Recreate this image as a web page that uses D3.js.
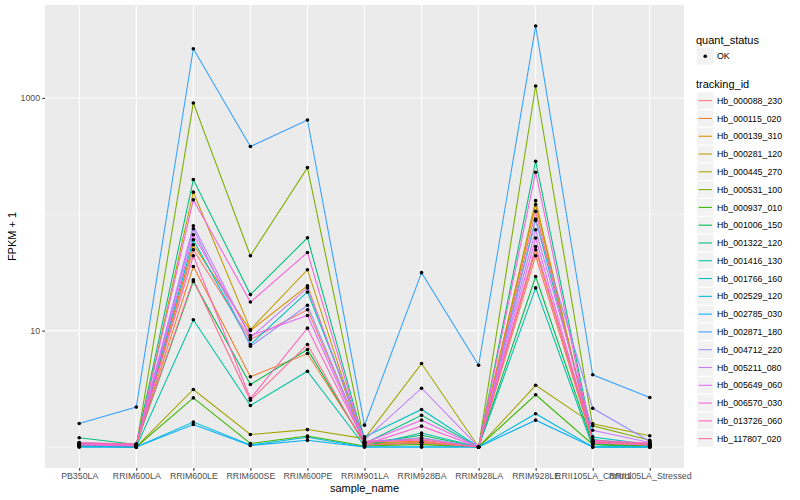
<!DOCTYPE html>
<html><head><meta charset="utf-8">
<script src="https://cdn.jsdelivr.net/npm/d3@7"></script>
<style>
body{margin:0;background:#fff}
text{font-family:"Liberation Sans",Arial,Helvetica,sans-serif}
</style>
</head><body>
<svg id="chart" width="800" height="500"></svg>
<script>
// ---- data (FPKM + 1) ----
const categories = ["PB350LA","RRIM600LA","RRIM600LE","RRIM600SE","RRIM600PE","RRIM901LA","RRIM928BA","RRIM928LA","RRIM928LE","RRII105LA_Control","RRII105LA_Stressed"];
const trackingIds = ["Hb_000088_230","Hb_000115_020","Hb_000139_310","Hb_000281_120","Hb_000445_270","Hb_000531_100","Hb_000937_010","Hb_001006_150","Hb_001322_120","Hb_001416_130","Hb_001766_160","Hb_002529_120","Hb_002785_030","Hb_002871_180","Hb_004712_220","Hb_005211_080","Hb_005649_060","Hb_006570_030","Hb_013726_060","Hb_117807_020"];
const hb_000088_230 = [1.06, 1.04, 49.6, 8.37, 15.1, 1.12, 1.18, 1.0, 44.0, 1.10, 1.07];
const hb_000115_020 = [1.05, 1.03, 35.6, 4.01, 6.35, 1.09, 1.12, 1.0, 49.6, 1.12, 1.05];
const hb_000139_310 = [1.03, 1.02, 54.7, 10.0, 24.3, 1.06, 1.10, 1.0, 121, 1.08, 1.03];
const hb_000281_120 = [1.02, 1.0, 155, 10.2, 33.4, 1.03, 1.08, 1.0, 131, 1.06, 1.02];
const hb_000445_270 = [1.03, 1.0, 3.12, 1.28, 1.41, 1.18, 5.21, 1.0, 3.39, 1.58, 1.25];
const hb_000531_100 = [1.05, 1.01, 906, 44.0, 252, 1.10, 1.05, 1.0, 1267, 1.52, 1.14];
const hb_000937_010 = [1.02, 1.0, 2.64, 1.07, 1.24, 1.02, 1.05, 1.0, 2.81, 1.05, 1.02];
const hb_001006_150 = [1.08, 1.05, 26.5, 3.44, 6.87, 1.07, 1.26, 1.0, 29.2, 1.05, 1.0];
const hb_001322_120 = [1.20, 1.05, 199, 20.4, 62.8, 1.07, 1.87, 1.0, 286, 1.16, 1.03];
const hb_001416_130 = [1.02, 1.0, 12.4, 2.27, 4.47, 1.02, 1.32, 1.0, 23.3, 1.0, 1.0];
const hb_001766_160 = [1.04, 1.02, 60.4, 7.59, 21.5, 1.22, 2.10, 1.0, 91, 1.22, 1.05];
const hb_002529_120 = [1.0, 1.0, 1.64, 1.04, 1.21, 1.0, 1.0, 1.0, 1.93, 1.0, 1.0];
const hb_002785_030 = [1.0, 1.0, 1.56, 1.03, 1.14, 1.0, 1.0, 1.0, 1.70, 1.0, 1.0];
const hb_002871_180 = [1.59, 2.20, 2650, 382, 647, 1.54, 31.5, 5.04, 4150, 4.17, 2.66];
const hb_004712_220 = [1.07, 1.04, 75.1, 7.33, 16.5, 1.10, 1.20, 1.0, 88.5, 2.15, 1.12];
const hb_005211_080 = [1.09, 1.06, 79.6, 8.71, 23.3, 1.15, 3.20, 1.0, 73.6, 1.39, 1.09];
const hb_005649_060 = [1.06, 1.03, 66.7, 9.06, 13.5, 1.08, 1.70, 1.0, 62.5, 1.12, 1.05];
const hb_006570_030 = [1.04, 1.02, 133, 17.6, 47.0, 1.05, 1.51, 1.0, 230, 1.08, 1.04];
const hb_013726_060 = [1.07, 1.05, 44.0, 2.61, 10.5, 1.10, 1.15, 1.0, 52.9, 1.14, 1.08];
const hb_117807_020 = [1.08, 1.06, 27.4, 2.52, 7.59, 1.04, 1.09, 1.0, 106, 1.10, 1.06];
const seriesValues = [hb_000088_230, hb_000115_020, hb_000139_310, hb_000281_120, hb_000445_270, hb_000531_100, hb_000937_010, hb_001006_150, hb_001322_120, hb_001416_130, hb_001766_160, hb_002529_120, hb_002785_030, hb_002871_180, hb_004712_220, hb_005211_080, hb_005649_060, hb_006570_030, hb_013726_060, hb_117807_020];
const yMajorTicks = [10, 1000];
const yMinorTicks = [1, 100];
const quantStatus = ["OK"];

// ---- styles ----
const palette = ["#F8766D","#EA8331","#D89000","#C09B00","#A3A500","#7CAE00","#39B600","#00BB4E","#00BF7D","#00C1A3","#00BFC4","#00BAE0","#00B0F6","#35A2FF","#9590FF","#C77CFF","#E76BF3","#FA62DB","#FF62BC","#FF6C91"];
const P = {left: 45, right: 684, top: 5, bottom: 468};

const svg = d3.select("#chart");
const x = d3.scalePoint().domain(categories).range([P.left, P.right]).padding(0.6);
const all = seriesValues.flat();
const lmin = Math.log10(d3.min(all)), lmax = Math.log10(d3.max(all));
const pad = (lmax - lmin) * 0.05;
const y = d3.scaleLog().domain([Math.pow(10, lmin - pad), Math.pow(10, lmax + pad)]).range([P.bottom, P.top]);
const color = d3.scaleOrdinal().domain(trackingIds).range(palette);

// panel
svg.append("rect").attr("x", P.left).attr("y", P.top).attr("width", P.right - P.left).attr("height", P.bottom - P.top).attr("fill", "#EBEBEB");
const grid = svg.append("g");
grid.selectAll(".ymin").data(yMinorTicks).join("line")
  .attr("x1", P.left).attr("x2", P.right).attr("y1", d => y(d)).attr("y2", d => y(d))
  .attr("stroke", "#fff").attr("stroke-width", 0.53);
grid.selectAll(".ymaj").data(yMajorTicks).join("line")
  .attr("x1", P.left).attr("x2", P.right).attr("y1", d => y(d)).attr("y2", d => y(d))
  .attr("stroke", "#fff").attr("stroke-width", 1.07);
grid.selectAll(".xmaj").data(categories).join("line")
  .attr("x1", d => x(d)).attr("x2", d => x(d)).attr("y1", P.top).attr("y2", P.bottom)
  .attr("stroke", "#fff").attr("stroke-width", 1.07);

// lines
const line = d3.line().x((d, i) => x(categories[i])).y(d => y(d));
svg.append("g").selectAll("path").data(seriesValues).join("path")
  .attr("d", line).attr("fill", "none")
  .attr("stroke", (d, i) => color(trackingIds[i])).attr("stroke-width", 1.07);

// points
const pts = [];
seriesValues.forEach((s, si) => s.forEach((v, ci) => pts.push({c: categories[ci], v})));
svg.append("g").selectAll("circle").data(pts).join("circle")
  .attr("cx", d => x(d.c)).attr("cy", d => y(d.v)).attr("r", 1.8).attr("fill", "#000");

// axes
const yAxis = svg.append("g").attr("transform", `translate(${P.left},0)`)
  .call(d3.axisLeft(y).tickValues(yMajorTicks).tickFormat(d3.format("d")).tickSize(2.74).tickPadding(2.2));
const xAxis = svg.append("g").attr("transform", `translate(0,${P.bottom})`)
  .call(d3.axisBottom(x).tickSize(2.74).tickPadding(2.2));
[yAxis, xAxis].forEach(a => {
  a.select(".domain").remove();
  a.selectAll(".tick line").attr("stroke", "#333333").attr("stroke-width", 1.07);
  a.selectAll(".tick text").attr("fill", "#4D4D4D").attr("font-size", "8.8px")
    .style("font-family", '"Liberation Sans",Arial,sans-serif');
});

// axis titles
svg.append("text").attr("x", (P.left + P.right) / 2).attr("y", 492).attr("text-anchor", "middle")
  .attr("font-size", "11px").attr("fill", "#000").text("sample_name");
svg.append("text").attr("transform", `translate(16,${(P.top + P.bottom) / 2}) rotate(-90)`)
  .attr("text-anchor", "middle").attr("font-size", "11px").attr("fill", "#000").text("FPKM + 1");

// legend: quant_status
const LX = 697;
const lg = svg.append("g");
lg.append("text").attr("x", LX - 1).attr("y", 44).attr("font-size", "11px").text("quant_status");
const qs = lg.selectAll(".qs").data(quantStatus).join("g").attr("transform", (d, i) => `translate(${LX},${48 + i * 17.8})`);
qs.append("rect").attr("width", 16.5).attr("height", 16.5).attr("fill", "#F2F2F2");
qs.append("circle").attr("cx", 8.25).attr("cy", 8.25).attr("r", 1.8).attr("fill", "#000");
qs.append("text").attr("x", 20).attr("y", 11.4).attr("font-size", "8.8px").text(d => d);

// legend: tracking_id
lg.append("text").attr("x", LX - 1).attr("y", 88).attr("font-size", "11px").text("tracking_id");
const ti = lg.selectAll(".ti").data(trackingIds).join("g").attr("transform", (d, i) => `translate(${LX},${92.4 + i * 17.79})`);
ti.append("rect").attr("width", 16.5).attr("height", 16.5).attr("fill", "#F2F2F2");
ti.append("line").attr("x1", 1.5).attr("x2", 15).attr("y1", 8.25).attr("y2", 8.25)
  .attr("stroke", d => color(d)).attr("stroke-width", 1.07);
ti.append("text").attr("x", 20).attr("y", 11.4).attr("font-size", "8.8px").text(d => d);
</script>
</body></html>
